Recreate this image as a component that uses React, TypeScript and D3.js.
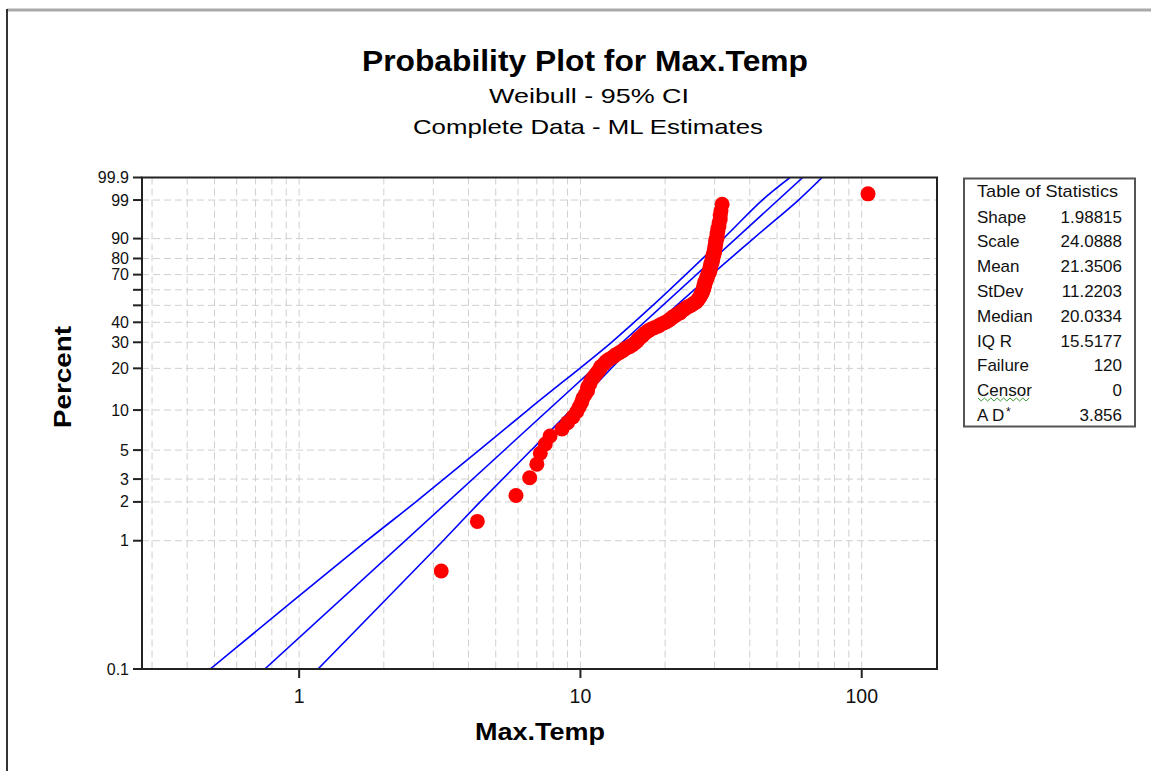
import React from "react";
import * as d3 from "d3";

const maxTemp = [
  3.2, 4.3, 5.9, 6.6, 7.0, 7.2, 7.5, 7.8, 8.6, 9.0,
  9.4, 9.7, 9.9, 10.1, 10.2, 10.4, 10.6, 10.6, 10.8, 10.9,
  11.1, 11.3, 11.5, 11.7, 11.8, 12.1, 12.3, 12.6, 13.0, 13.3,
  13.7, 14.1, 14.4, 14.9, 15.3, 15.6, 15.9, 16.0, 16.3, 16.6,
  16.8, 17.1, 17.4, 17.8, 18.3, 18.9, 19.3, 19.8, 20.3, 20.7,
  21.0, 21.3, 21.7, 22.1, 22.6, 22.8, 23.2, 23.5, 23.9, 24.5,
  24.9, 25.3, 25.8, 26.0, 26.2, 26.4, 26.6, 26.8, 26.8, 27.1,
  27.1, 27.3, 27.3, 27.5, 27.5, 27.5, 27.7, 27.7, 27.7, 28.0,
  28.0, 28.2, 28.2, 28.4, 28.4, 28.7, 28.7, 28.9, 28.9, 28.9,
  29.1, 29.1, 29.1, 29.4, 29.4, 29.4, 29.6, 29.6, 29.6, 29.9,
  29.9, 29.9, 30.1, 30.1, 30.1, 30.3, 30.3, 30.3, 30.6, 30.6,
  30.6, 30.8, 30.8, 31.1, 31.1, 31.4, 31.4, 31.6, 31.9, 105.3,
];

// fitted line and 95% CI bands (percent -> Max.Temp)
const fitPercent = [0.1, 99.9];
const fitTemp = [0.755, 61.7];
const bandPercent = [0.1, 1, 2, 10, 30, 50, 90, 99, 99.9];
const lowerTemp = [0.483, 1.74, 2.6, 6.5, 12.9, 18.1, 32.2, 44.3, 55.6];
const upperTemp = [1.167, 3.25, 4.4, 9.25, 15.9, 22.0, 41.2, 59.6, 72.3];

const percentTicks = [0.1, 1, 2, 3, 5, 10, 20, 30, 40, 50, 60, 70, 80, 90, 99, 99.9];
const percentLabels = ["0.1", "1", "2", "3", "5", "10", "20", "30", "40", "", "", "70", "80", "90", "99", "99.9"];
const xTicks = [1, 10, 100];
const xTickLabels = ["1", "10", "100"];

const statLabels = ["Shape", "Scale", "Mean", "StDev", "Median", "IQ R", "Failure", "Censor", "A D"];
const statValues = ["1.98815", "24.0888", "21.3506", "11.2203", "20.0334", "15.5177", "120", "0", "3.856"];

const W = 1151;
const H = 771;
const plot = { left: 142, right: 937, top: 177.5, bottom: 669 };
const FONT = "'Liberation Sans', Arial, sans-serif";

const weib = (p: number) => Math.log(-Math.log(1 - p / 100));

export default function App() {
  const x = d3.scaleLog().domain([0.2763, 185.2]).range([plot.left, plot.right]);
  const y = d3.scaleLinear().domain([weib(0.1), weib(99.9)]).range([plot.bottom, plot.top]);

  const n = maxTemp.length;
  const points = maxTemp.map((v, i) => ({ v, p: ((i + 1 - 0.3) / (n + 0.4)) * 100 }));

  const line = d3
    .line<{ p: number; t: number }>()
    .x((d) => x(d.t))
    .y((d) => y(weib(d.p)))
    .curve(d3.curveCatmullRom);

  const fit = fitPercent.map((p, i) => ({ p, t: fitTemp[i] }));
  const lower = bandPercent.map((p, i) => ({ p, t: lowerTemp[i] }));
  const upper = bandPercent.map((p, i) => ({ p, t: upperTemp[i] }));

  const xGrid = x.ticks().filter((t) => t > 0.28 && t < 185);

  const wave: string[] = [];
  for (let i = 0; i <= 16; i++) {
    wave.push(`${i === 0 ? "M" : "L"}${978 + i * 3.2},${i % 2 === 0 ? 398 : 401}`);
  }

  return (
    <svg
      width={W}
      height={H}
      style={{ position: "absolute", left: 0, top: 0, background: "#fff" }}
      fontFamily={FONT}
    >
      <rect x={0} y={0} width={W} height={H} fill="#fff" />
      {/* window frame */}
      <line x1={7} x2={W} y1={10} y2={10} stroke="#a9a9a9" strokeWidth={3} />
      <line x1={7} x2={7} y1={9} y2={H} stroke="#333" strokeWidth={2} />

      {/* titles */}
      <text x={585} y={71} textAnchor="middle" fontSize={30} fontWeight="bold" fill="#000"
        textLength={446} lengthAdjust="spacingAndGlyphs">Probability Plot for Max.Temp</text>
      <text x={589} y={103} textAnchor="middle" fontSize={21} fill="#000"
        textLength={200} lengthAdjust="spacingAndGlyphs">Weibull - 95% CI</text>
      <text x={588} y={134} textAnchor="middle" fontSize={21} fill="#000"
        textLength={350} lengthAdjust="spacingAndGlyphs">Complete Data - ML Estimates</text>

      {/* grid */}
      <g stroke="#cfcfcf" strokeWidth={1} strokeDasharray="7,4">
        {xGrid.map((t) => (
          <line key={"gx" + t} x1={x(t)} x2={x(t)} y1={plot.top} y2={plot.bottom} />
        ))}
        {percentTicks.slice(1, -1).map((p) => (
          <line key={"gy" + p} x1={plot.left} x2={plot.right} y1={y(weib(p))} y2={y(weib(p))} />
        ))}
      </g>

      {/* fit and confidence bands */}
      <defs>
        <clipPath id="plotClip">
          <rect x={plot.left} y={plot.top} width={plot.right - plot.left} height={plot.bottom - plot.top} />
        </clipPath>
      </defs>
      <g clipPath="url(#plotClip)" fill="none" stroke="#0000ff" strokeWidth={1.6}>
        <path d={line(lower) || ""} />
        <path d={line(fit) || ""} />
        <path d={line(upper) || ""} />
      </g>

      {/* observations */}
      <g fill="#ff0000">
        {points.map((d, i) => (
          <circle key={i} cx={x(d.v)} cy={y(weib(d.p))} r={7.5} />
        ))}
      </g>

      {/* plot frame */}
      <rect x={plot.left} y={plot.top} width={plot.right - plot.left} height={plot.bottom - plot.top}
        fill="none" stroke="#222" strokeWidth={2} />

      {/* y axis */}
      <g fontSize={16} fill="#111" textAnchor="end">
        {percentTicks.map((p, i) => {
          const yy = y(weib(p));
          return (
            <g key={"yt" + p}>
              <line x1={plot.left - 9} x2={plot.left} y1={yy} y2={yy} stroke="#222" strokeWidth={2} />
              <text x={129} y={yy + 5.5}>{percentLabels[i]}</text>
            </g>
          );
        })}
      </g>
      <text transform="translate(71,377) rotate(-90)" textAnchor="middle" fontSize={24} fontWeight="bold"
        textLength={102} lengthAdjust="spacingAndGlyphs">Percent</text>

      {/* x axis */}
      <g fontSize={19.5} fill="#111" textAnchor="middle">
        {xTicks.map((t, i) => (
          <g key={"xt" + t}>
            <line x1={x(t)} x2={x(t)} y1={plot.bottom} y2={plot.bottom + 9} stroke="#222" strokeWidth={2} />
            <text x={x(t)} y={703}>{xTickLabels[i]}</text>
          </g>
        ))}
      </g>
      <text x={540} y={740} textAnchor="middle" fontSize={24} fontWeight="bold"
        textLength={130} lengthAdjust="spacingAndGlyphs">Max.Temp</text>

      {/* table of statistics */}
      <rect x={964} y={178.5} width={171} height={248} fill="#fff" stroke="#555" strokeWidth={2} />
      <g fontSize={17} fill="#111">
        <text x={977} y={197} textLength={141} lengthAdjust="spacingAndGlyphs">Table of Statistics</text>
        {statLabels.map((s, i) => {
          const cy = 216.5 + i * 24.8;
          return (
            <g key={s}>
              <text x={977} y={cy + 6}>{s}</text>
              {s === "A D" && <text x={1006} y={cy + 1} fontSize={12}>*</text>}
              <text x={1122} y={cy + 6} textAnchor="end">{statValues[i]}</text>
            </g>
          );
        })}
      </g>
      <path d={wave.join("")} fill="none" stroke="#3b9a3b" strokeWidth={1} />
    </svg>
  );
}
